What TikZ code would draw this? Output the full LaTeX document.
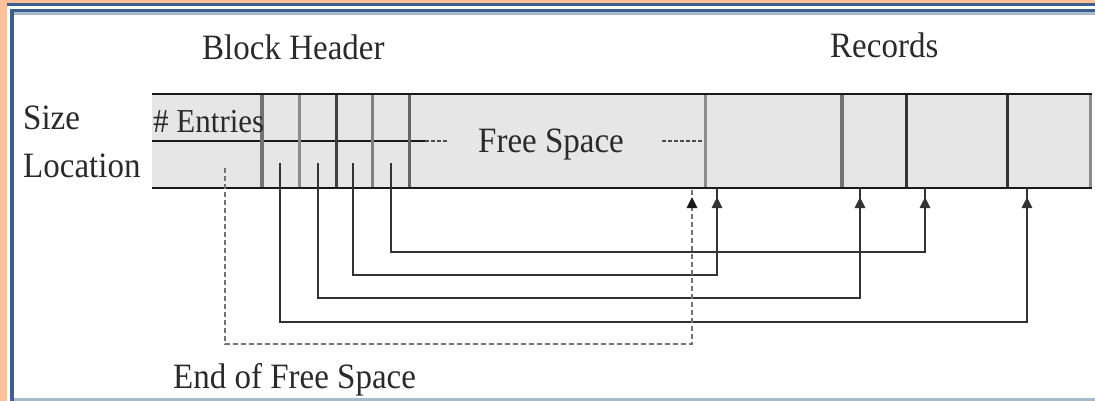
\documentclass[tikz,border=0pt]{standalone}
\usepackage{fontspec}
\setmainfont{Liberation Serif}
\usetikzlibrary{arrows.meta,decorations.markings}
\definecolor{peach}{HTML}{FFC09A}
\definecolor{frameblue}{HTML}{3C5F8F}
\definecolor{lightframe}{HTML}{A9B9CC}
\definecolor{cellgray}{HTML}{E6E6E6}
\definecolor{inkgray}{HTML}{2A2A2A}
\begin{document}
\begin{tikzpicture}[x=1pt,y=-1pt,
  lbl/.style={inner sep=0pt, anchor=base west, text=inkgray, font=\fontsize{33}{36}\selectfont, yscale=1.08},
  sepline/.style={line width=3pt, draw=#1},
  rule/.style={line width=2.8pt, draw=black!90},
  ptr/.style={line width=2.6pt, draw=black!80, postaction={decorate},
    decoration={markings, mark=at position -9pt with {\arrow{Triangle[length=11pt,width=10pt]}}}},
  endptr/.style={line width=2.6pt, draw=black!55, dash pattern=on 5pt off 3pt, postaction={decorate},
    decoration={markings, mark=at position -9pt with {\arrow[black!90]{Triangle[length=11pt,width=10pt]}}}}
]
\useasboundingbox (0,0) rectangle (1095,401);
% frame
\fill[peach] (0,0) rectangle (1095,401);
\fill[white] (7,3) rectangle (1095,401);
\fill[frameblue] (7,3) rectangle (1095,6);
\fill[frameblue] (10,9) rectangle (1095,12);
\fill[lightframe] (14,12) rectangle (1095,15);
\fill[frameblue] (10,9) rectangle (14,401);
\fill[lightframe] (14,398) rectangle (1095,401);

% block
\fill[cellgray] (152,94) rectangle (1090,188);
\draw[rule] (152,141) -- (425,141);
\draw[line width=2.6pt, draw=black!70, dash pattern=on 4pt off 2pt] (425,141) -- (447,141);
\draw[line width=2.6pt, draw=black!70, dash pattern=on 4pt off 2pt] (662,141) -- (705,141);

\draw[sepline=black!55, line width=4pt] (262,94) -- (262,188);
\draw[sepline=black!45] (299,94) -- (299,188);
\draw[sepline=black!75] (336,94) -- (336,188);
\draw[sepline=black!50] (372,94) -- (372,188);
\draw[sepline=black!60] (409,94) -- (409,188);
\draw[sepline=black!45] (705,94) -- (705,188);
\draw[sepline=black!55, line width=4.5pt] (842,94) -- (842,188);
\draw[sepline=black!80] (906,94) -- (906,188);
\draw[sepline=black!80] (1007,94) -- (1007,188);
\draw[sepline=black!45] (1090,94) -- (1090,188);
\draw[rule] (152,94) -- (1091.5,94);
\draw[rule] (152,188) -- (1091.5,188);

% labels
\node[lbl] (bh) at (202,60) {Block Header};
\node[lbl] (rec) at (830,58) {Records};
\node[lbl] (sz) at (23,130) {Size};
\node[lbl] (loc) at (23,177) {Location};
\node[lbl, font=\fontsize{31}{34}\selectfont] (ent) at (153,133) {\# Entries};
\node[lbl] (fs) at (478,153) {Free Space};
\node[lbl] (efs) at (173,388) {End of Free Space};

% pointer origins and targets
\coordinate (c0) at (225,168);
\coordinate (c1) at (280,163);
\coordinate (c2) at (318,163);
\coordinate (c3) at (353,163);
\coordinate (c4) at (391,163);
\coordinate (t0) at (692,188);
\coordinate (t1) at (1027,188);
\coordinate (t2) at (860,188);
\coordinate (t3) at (717,188);
\coordinate (t4) at (925,188);

\draw[ptr] (c4) -- ++(0,89) -| (t4);
\draw[ptr] (c3) -- ++(0,112) -| (t3);
\draw[ptr] (c2) -- ++(0,135) -| (t2);
\draw[ptr] (c1) -- ++(0,159) -| (t1);
\draw[endptr] (c0) -- ++(0,176) -| (t0);
\end{tikzpicture}
\end{document}
